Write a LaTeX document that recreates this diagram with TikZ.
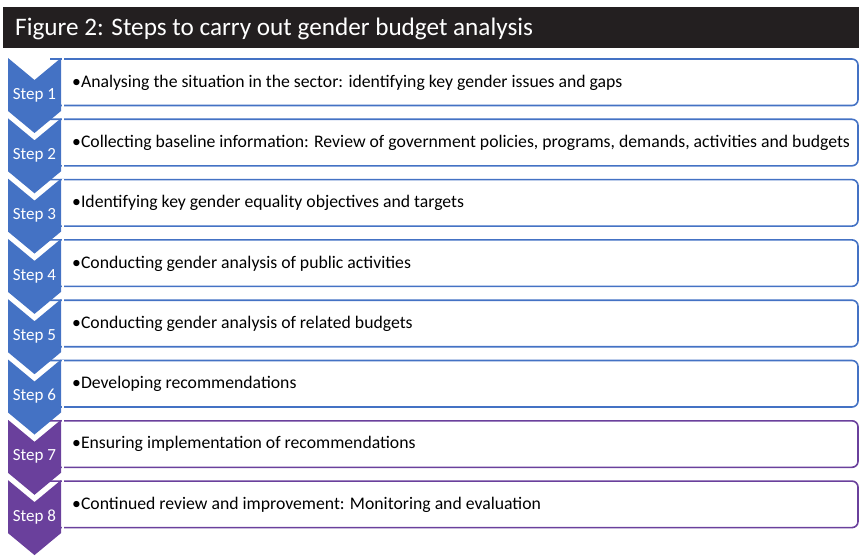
\documentclass[tikz,border=0pt]{standalone}
\usepackage{fontspec}
\setmainfont{Carlito}
\definecolor{titlebg}{HTML}{231F20}
\definecolor{stepblue}{HTML}{4472C4}
\definecolor{steppurple}{HTML}{6A409C}
\begin{document}
\begin{tikzpicture}[x=1pt,y=-1pt,
  chev/.style={fill=#1},
  itembox/.style={draw=#1, line width=1.6pt, rounded corners=6pt},
  steplabel/.style={text=white, font=\fontsize{17}{20}\selectfont, inner sep=0pt},
  itemtext/.style={anchor=west, font=\fontsize{17.7}{21}\selectfont, inner sep=0pt},
  titletext/.style={anchor=west, text=white, font=\fontsize{25.2}{30}\selectfont, inner sep=0pt}]
\useasboundingbox (0,0) rectangle (859,559);
\fill[titlebg] (3,7) rectangle (859,48);
\node[titletext] (title) at (15,29) {Figure 2: Steps to carry out gender budget analysis};
\foreach \i/\col/\txt in {
  1/stepblue/{Analysing the situation in the sector: identifying key gender issues and gaps},
  2/stepblue/{Collecting baseline information: Review of government policies, programs, demands, activities and budgets},
  3/stepblue/{Identifying key gender equality objectives and targets},
  4/stepblue/{Conducting gender analysis of public activities},
  5/stepblue/{Conducting gender analysis of related budgets},
  6/stepblue/{Developing recommendations},
  7/steppurple/{Ensuring implementation of recommendations},
  8/steppurple/{Continued review and improvement: Monitoring and evaluation}} {
  \pgfmathsetmacro\yt{58+60.3*(\i-1)}
  \draw[itembox=\col] (50,{\yt+47.5}) -- (858,{\yt+47.5}) -- (858,{\yt+1}) -- (50,{\yt+1});
  \fill[white] (61.5,{\yt}) rectangle (64,{\yt+49});
  \fill[chev=\col] (8,{\yt}) -- (34.5,{\yt+22}) -- (61,{\yt}) -- (61,{\yt+53}) -- (34.5,{\yt+75}) -- (8,{\yt+53}) -- cycle;
  \node[steplabel] (s\i) at (34.5,{\yt+37}) {Step \i};
  \node[itemtext] (t\i) at (72,{\yt+24.5}) {•\txt};
}
\end{tikzpicture}
\end{document}
